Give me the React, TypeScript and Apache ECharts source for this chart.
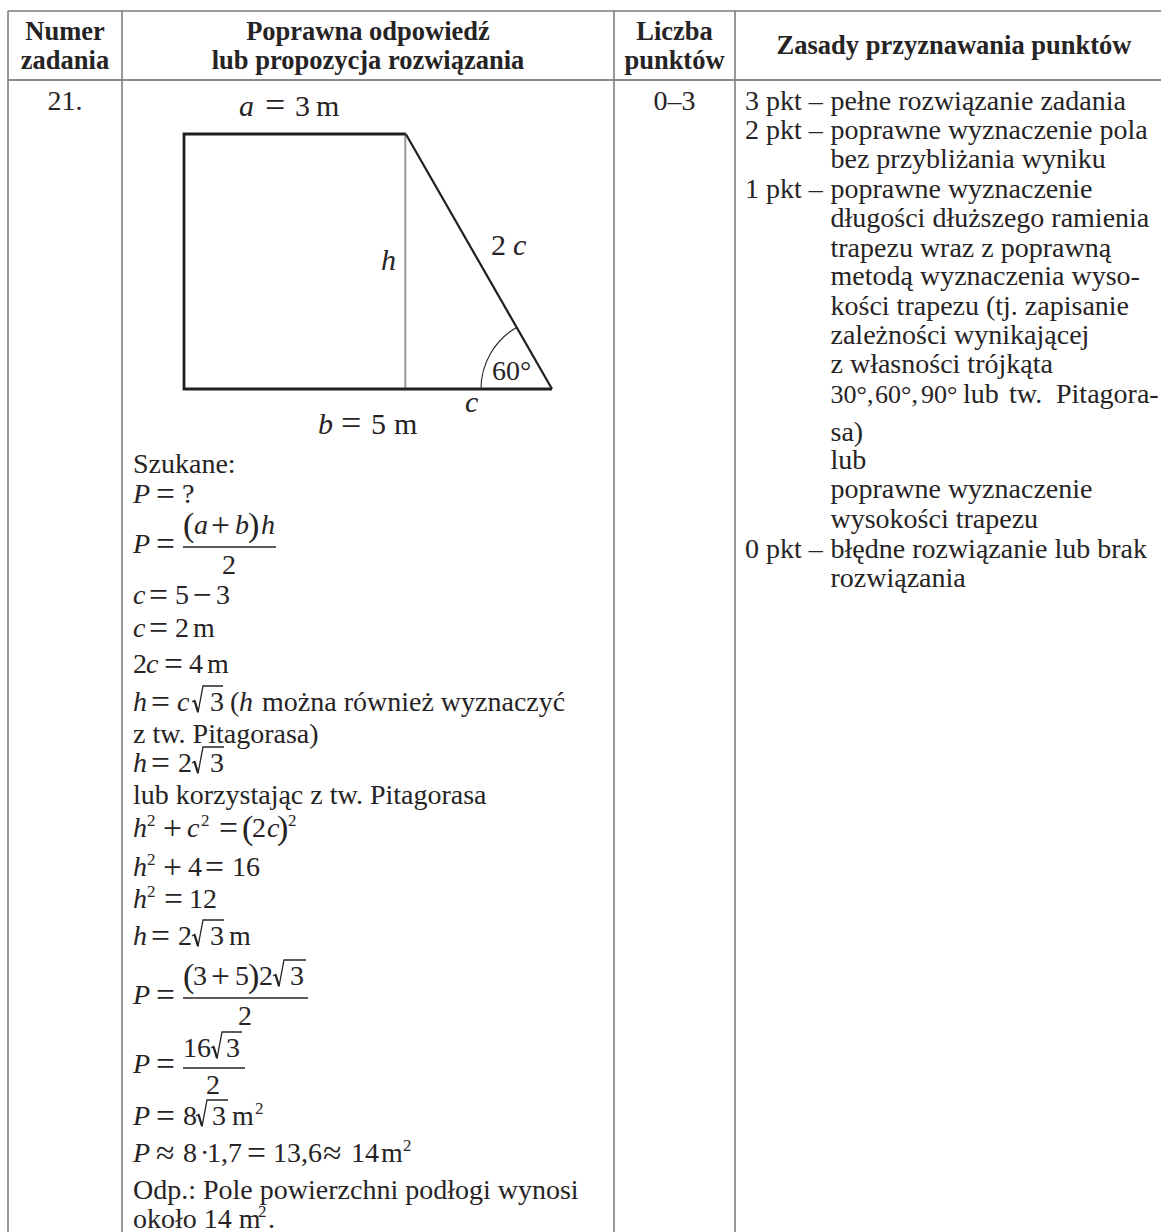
import React, { useEffect, useRef } from "react";
import * as echarts from "echarts";

// ---------- content ----------
const headerNumber = ["Numer", "zadania"];
const headerAnswer = ["Poprawna odpowiedź", "lub propozycja rozwiązania"];
const headerPoints = ["Liczba", "punktów"];
const headerRules = ["Zasady przyznawania punktów"];
const taskNumber = "21.";
const taskPoints = "0–3";

const ruleLabels = ["3 pkt –", "2 pkt –", "1 pkt –", "0 pkt –"];
const ruleLines = [
  "pełne rozwiązanie zadania",
  "poprawne wyznaczenie pola",
  "bez przybliżania wyniku",
  "poprawne wyznaczenie",
  "długości dłuższego ramienia",
  "trapezu wraz z poprawną",
  "metodą wyznaczenia wyso-",
  "kości trapezu (tj. zapisanie",
  "zależności wynikającej",
  "z własności trójkąta",
  "sa)",
  "lub",
  "poprawne wyznaczenie",
  "wysokości trapezu",
  "błędne rozwiązanie lub brak",
  "rozwiązania",
];
const ruleAngles = ["30°,", "60°,", "90°", "lub", "tw.", "Pitagora-"];

// Tokens: "_" prefix = italic, "^" prefix = superscript, "!" prefix = tall bracket
const solutionTokens: string[][] = [
  ["Szukane:"],
  ["_P", "=", "?"],
  ["_P", "="],
  ["_c", "=", "5", "−", "3"],
  ["_c", "=", "2", "m"],
  ["2", "_c", "=", "4", "m"],
  ["_h", "=", "_c", "3", "(", "_h", "można również wyznaczyć"],
  ["z tw. Pitagorasa)"],
  ["_h", "=", "2", "3"],
  ["lub korzystając z tw. Pitagorasa"],
  ["_h", "^2", "+", "_c", "^2", "=", "!(", "2", "_c", "!)"],
  ["_h", "^2", "+", "4", "=", "16"],
  ["_h", "^2", "=", "12"],
  ["_h", "=", "2", "3", "m"],
  ["_P", "="],
  ["_P", "="],
  ["_P", "=", "8", "3", "m", "^2"],
  ["_P", "≈", "8", "·", "1,7", "=", "13,6", "≈", "14", "m", "^2"],
  ["Odp.: Pole powierzchni podłogi wynosi"],
  ["około 14 m", "^2", "."],
];

const fractions = [
  { top: ["!(", "_a", "+", "_b", "!)", "_h"], bottom: "2" },
  { top: ["!(", "3", "+", "5", "!)", "2", "3"], bottom: "2" },
  { top: ["16", "3"], bottom: "2" },
];

const trapezoidTop = 3;
const trapezoidBottom = 5;
const labelA = ["_a", "=", "3", "m"];
const labelB = ["_b", "=", "5", "m"];
const labelH = "h";
const label2c = ["2", "_c"];
const labelC = "c";
const labelAngle = "60°";
const angleDeg = 60;

// ---------- layout ----------
const INK = "#262324";
const RULE = "#7d7d7d";
const FONT = '"Liberation Serif", "Times New Roman", serif';
const BODY = 28;
const HEAD = 26.5;
const SUP = 17;

const col = { left: 8, c1: 122, c2: 614, c3: 735, right: 1161, top: 11, head: 80, bottom: 1232 };
const headBase = [40, 69];
const ruleLabelBase = [110, 139, 198, 558];
const ruleLineBase = [110, 139, 168, 198, 227, 257, 285, 315, 344, 373, 441, 469, 498, 528, 558, 587];
const ruleLabelX = 745;
const ruleLineX = 830.5;
const ruleAngleBase = 403;
const ruleAngleX = [830.5, 875, 921, 963, 1009, 1056];

const solutionBase = [473, 503, 553, 604, 637, 673, 711, 743, 772, 804, 837, 876, 908, 945, 1004, 1073, 1125, 1162, 1199, 1228];
const solutionX: number[][] = [
  [133],
  [133, 156, 182],
  [133, 156],
  [133, 149, 175, 193, 216],
  [133, 149, 175, 193],
  [133, 146, 164, 189, 207],
  [133, 151, 177, 210, 230, 239, 262],
  [133],
  [133, 151, 178, 210],
  [133],
  [133, 147, 163, 187, 201, 219, 242, 252, 267, 277],
  [133, 147, 163, 188, 205, 232],
  [133, 147, 164, 189],
  [133, 151, 178, 210, 229],
  [133, 156],
  [133, 156],
  [133, 156, 183, 212, 232, 255],
  [133, 156, 183, 200, 207, 247, 273, 323, 351, 381, 403],
  [133],
  [133, 258, 268],
];
// [line index, x of radical, end of the radical's bar]
const radicals: [number, number, number][] = [
  [6, 192, 223],
  [8, 192, 224],
  [13, 192, 224],
  [16, 196, 228],
];
const fractionLayout = [
  { topBase: 534, bar: 547, botBase: 574, x0: 183, x1: 276, botX: 229, topX: [183, 194, 211, 235, 248, 261] },
  { topBase: 985, bar: 998, botBase: 1025, x0: 183, x1: 308, botX: 245, topX: [183, 193, 211, 235, 248, 259, 290] },
  { topBase: 1057, bar: 1068, botBase: 1094, x0: 183, x1: 245, botX: 213, topX: [183, 226] },
];
const fractionRadicals: [number, number, number][] = [
  [985, 273, 306],
  [1057, 211, 242],
];
const outerSup = { text: "2", x: 288, base: 826 };

const trap = { x0: 184, top: 134, base: 389 };
const metre = (552 - 184) / trapezoidBottom;
const DIAG = 30;
const OPERATORS = ["=", "+", "−", "≈"];

function txt(text: string, x: number, base: number, o: any = {}) {
  const size = o.size ?? BODY;
  return {
    type: "text",
    silent: true,
    x,
    y: base - 0.3375 * size,
    style: {
      text,
      fill: INK,
      fontFamily: FONT,
      fontSize: size,
      fontWeight: o.bold ? "bold" : "normal",
      fontStyle: o.italic ? "italic" : "normal",
      align: o.align ?? "left",
      verticalAlign: "middle",
    },
  };
}

function token(t: string, x: number, base: number, size = BODY) {
  if (t.startsWith("_")) return txt(t.slice(1), x, base, { italic: true, size });
  if (t.startsWith("^")) return txt(t.slice(1), x, base - 11, { size: SUP });
  if (t.startsWith("!")) return txt(t.slice(1), x, base + 2.5, { size: size * 1.22 });
  if (OPERATORS.includes(t)) return txt(t, x, base + 1.5, { size: size * 1.2 });
  return txt(t, x, base, { size });
}

function radical(x: number, end: number, base: number) {
  return [
    {
      type: "polyline",
      silent: true,
      shape: { points: [[x, base - 9], [x + 2.5, base - 10.5], [x + 6, base + 1.5], [x + 11, base - 25], [end, base - 25]] },
      style: { stroke: INK, lineWidth: 1.3, fill: "none" },
    },
    {
      type: "line",
      silent: true,
      shape: { x1: x + 2.5, y1: base - 10.5, x2: x + 6, y2: base + 1 },
      style: { stroke: INK, lineWidth: 2.2 },
    },
  ];
}

function hline(x1: number, x2: number, y: number, w = 2, c = RULE) {
  return { type: "line", silent: true, shape: { x1, y1: y, x2, y2: y }, style: { stroke: c, lineWidth: w } };
}
function vline(x: number, y1: number, y2: number, w = 1.6, c = RULE) {
  return { type: "line", silent: true, shape: { x1: x, y1, x2: x, y2 }, style: { stroke: c, lineWidth: w } };
}

function buildElements() {
  const els: any[] = [];
  // grid
  els.push(hline(col.left, col.right, col.top, 1.6));
  els.push(hline(col.left, col.right, col.head, 2.2, "#8a8a8a"));
  [col.left, col.c1, col.c2, col.c3].forEach((x) => els.push(vline(x, col.top, col.bottom)));

  // header
  const cx1 = (col.left + col.c1) / 2;
  const cx2 = (col.c1 + col.c2) / 2;
  const cx3 = (col.c2 + col.c3) / 2;
  headerNumber.forEach((t, i) => els.push(txt(t, cx1, headBase[i], { bold: true, size: HEAD, align: "center" })));
  headerAnswer.forEach((t, i) => els.push(txt(t, cx2, headBase[i], { bold: true, size: HEAD, align: "center" })));
  headerPoints.forEach((t, i) => els.push(txt(t, cx3, headBase[i], { bold: true, size: HEAD, align: "center" })));
  els.push(txt(headerRules[0], 954, 54, { bold: true, size: HEAD, align: "center" }));
  els.push(txt(taskNumber, cx1, 110, { align: "center" }));
  els.push(txt(taskPoints, cx3, 110, { align: "center" }));

  // rules column
  ruleLabels.forEach((t, i) => els.push(txt(t, ruleLabelX, ruleLabelBase[i])));
  ruleLines.forEach((t, i) => els.push(txt(t, ruleLineX, ruleLineBase[i])));
  ruleAngles.forEach((t, i) => els.push(txt(t, ruleAngleX[i], ruleAngleBase, { size: i < 3 ? 26 : BODY })));

  // solution
  solutionTokens.forEach((line, i) =>
    line.forEach((t, j) => els.push(token(t, solutionX[i][j], solutionBase[i]))),
  );
  radicals.forEach(([i, x, end]) => els.push(...radical(x, end, solutionBase[i])));
  els.push(txt(outerSup.text, outerSup.x, outerSup.base, { size: SUP }));
  fractions.forEach((f, i) => {
    const l = fractionLayout[i];
    f.top.forEach((t, j) => els.push(token(t, l.topX[j], l.topBase)));
    els.push(hline(l.x0, l.x1, l.bar, 1.3, INK));
    els.push(txt(f.bottom, l.botX, l.botBase, { align: "center" }));
  });
  fractionRadicals.forEach(([b, x, end]) => els.push(...radical(x, end, b)));

  // trapezoid
  const xTop = trap.x0 + trapezoidTop * metre + 1;
  const xBase = trap.x0 + trapezoidBottom * metre;
  els.push(vline(xTop - 0.5, trap.top, trap.base, 2, "#989898"));
  els.push({
    type: "polyline",
    silent: true,
    shape: { points: [[xTop, trap.top], [trap.x0, trap.top], [trap.x0, trap.base], [xBase, trap.base]] },
    style: { stroke: "#231f20", lineWidth: 2.8, fill: "none", lineJoin: "miter" },
  });
  els.push({
    type: "line",
    silent: true,
    shape: { x1: xTop, y1: trap.top, x2: xBase, y2: trap.base },
    style: { stroke: "#231f20", lineWidth: 2.2 },
  });
  els.push({
    type: "arc",
    silent: true,
    shape: {
      cx: xBase,
      cy: trap.base,
      r: 71,
      startAngle: Math.PI,
      endAngle: Math.PI + (angleDeg * Math.PI) / 180,
      clockwise: true,
    },
    style: { stroke: INK, lineWidth: 1.1, fill: "none" },
  });
  const ax = [239, 265, 295, 316];
  labelA.forEach((t, i) => els.push(token(t, ax[i], 116, DIAG)));
  const bx = [318, 341, 371, 394];
  labelB.forEach((t, i) => els.push(token(t, bx[i], 434, DIAG)));
  els.push(txt(labelH, 381, 270, { italic: true, size: DIAG }));
  const cx = [491, 513];
  label2c.forEach((t, i) => els.push(token(t, cx[i], 255, DIAG)));
  els.push(txt(labelC, 465, 412, { italic: true, size: DIAG }));
  els.push(txt(labelAngle, 492, 380, { size: 28 }));
  return els;
}

export default function App() {
  const ref = useRef<HTMLDivElement>(null);
  useEffect(() => {
    const chart = echarts.init(ref.current!, undefined, { renderer: "svg" });
    chart.setOption({
      animation: false,
      backgroundColor: "#ffffff",
      graphic: { elements: buildElements() },
    });
    return () => chart.dispose();
  }, []);
  return <div ref={ref} style={{ position: "absolute", left: 0, top: 0, width: 1161, height: 1232 }} />;
}
